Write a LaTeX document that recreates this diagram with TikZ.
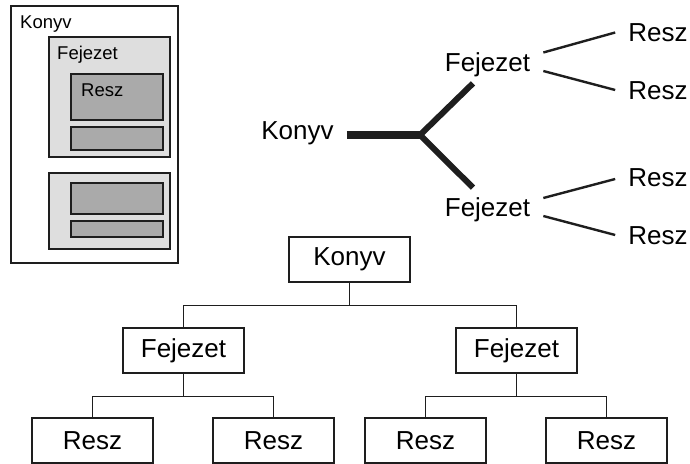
\documentclass[tikz,border=0pt]{standalone}
\usepackage{fontspec}
\setmainfont{Liberation Sans}
\usepackage{xcolor}
\usepackage{tikz}
\usetikzlibrary{positioning}

\definecolor{chapgray}{RGB}{222,222,222}
\definecolor{partgray}{RGB}{170,170,170}
\definecolor{inkgray}{RGB}{30,30,30}

\begin{document}
\begin{tikzpicture}[
    x=1pt, y=-1pt,
    bigtext/.style={font=\fontsize{26pt}{30pt}\selectfont},
    smalltext/.style={font=\fontsize{18.5pt}{22pt}\selectfont, inner sep=0pt, anchor=west},
    word/.style={bigtext, inner sep=0pt},
    nestbox/.style={draw=inkgray, line width=1.5pt, inner sep=0pt},
    orgbox/.style={draw=inkgray, line width=1.5pt, bigtext, minimum width=121pt, minimum height=45pt, inner sep=0pt},
    orgline/.style={draw=inkgray, line width=1.3pt},
    trunk/.style={draw=inkgray, line width=8.5pt},
    bough/.style={draw=inkgray, line width=6pt, line join=miter},
    twig/.style={draw=inkgray, line width=2.4pt},
]
\useasboundingbox (0,0) rectangle (690,463);

% Top left: boxes inside boxes
\node[nestbox, minimum width=167pt, minimum height=257pt] (nkonyv) at (94.5,134.5) {};
\node[nestbox, fill=chapgray, minimum width=121pt, minimum height=120pt] (nfej1) at (109.5,97) {};
\node[nestbox, fill=partgray, minimum width=92pt, minimum height=46pt] (nresz1) at (117,97) {};
\node[nestbox, fill=partgray, minimum width=92pt, minimum height=23pt] (nresz2) at (117,138.5) {};
\node[nestbox, fill=chapgray, minimum width=121pt, minimum height=76pt] (nfej2) at (109.5,211) {};
\node[nestbox, fill=partgray, minimum width=92pt, minimum height=31pt] (nresz3) at (117,198.5) {};
\node[nestbox, fill=partgray, minimum width=92pt, minimum height=16pt] (nresz4) at (117,229) {};
\node[smalltext] (nkonyvlbl) at (20,24) {Konyv};
\node[smalltext] (nfejlbl) at (57,54.5) {Fejezet};
\node[smalltext] (nreszlbl) at (81,90) {Resz};

% Top right: branching tree
\node[word] (tkonyv) at (297.5,133) {Konyv};
\node[word] (tfej1) at (487.5,64.5) {Fejezet};
\node[word] (tfej2) at (487.5,209.5) {Fejezet};
\node[word] (tresz1) at (658,32.5) {Resz};
\node[word] (tresz2) at (658,91) {Resz};
\node[word] (tresz3) at (658,178) {Resz};
\node[word] (tresz4) at (658,236) {Resz};
\coordinate (fork) at (420,135);

\draw[bough] ([xshift=-14.5pt,yshift=-6.5pt]tfej1.south) -- (fork) -- ([xshift=-14.5pt,yshift=9.5pt]tfej2.north);
\draw[trunk] ([xshift=13pt,yshift=-2pt]tkonyv.east) -- (fork);

\draw[twig] ([xshift=13pt,yshift=12pt]tfej1.east) -- ([xshift=-13pt]tresz1.west);
\draw[twig] ([xshift=13pt,yshift=-6.5pt]tfej1.east) -- ([xshift=-13pt,yshift=1pt]tresz2.west);
\draw[twig] ([xshift=13pt,yshift=11.5pt]tfej2.east) -- ([xshift=-13pt,yshift=-1pt]tresz3.west);
\draw[twig] ([xshift=13pt,yshift=-6.5pt]tfej2.east) -- ([xshift=-13pt,yshift=1pt]tresz4.west);

% Bottom: org chart
\node[orgbox] (okonyv) at (349.5,259.5) {Konyv};
\node[orgbox] (ofej1) at (183.5,350.5) {Fejezet};
\node[orgbox] (ofej2) at (516.5,350.5) {Fejezet};
\node[orgbox] (oresz1) at (92.5,440.5) {Resz};
\node[orgbox] (oresz2) at (273.5,440.5) {Resz};
\node[orgbox] (oresz3) at (425.5,440.5) {Resz};
\node[orgbox] (oresz4) at (606.5,440.5) {Resz};

\draw[orgline] (okonyv.south) -- ++(0,23) coordinate (obus0);
\draw[orgline] (ofej1.north) |- (obus0) -| (ofej2.north);
\draw[orgline] (ofej1.south) -- ++(0,23) coordinate (obus1);
\draw[orgline] (oresz1.north) |- (obus1) -| (oresz2.north);
\draw[orgline] (ofej2.south) -- ++(0,23) coordinate (obus2);
\draw[orgline] (oresz3.north) |- (obus2) -| (oresz4.north);

\end{tikzpicture}
\end{document}
